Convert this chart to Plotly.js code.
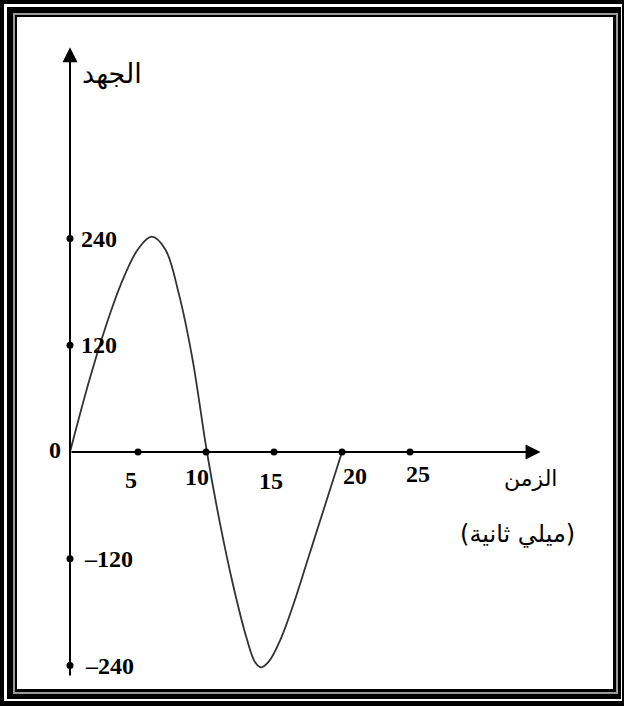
<!DOCTYPE html>
<html>
<head>
<meta charset="utf-8">
<script src="https://cdn.plot.ly/plotly-3.0.1.min.js"></script>
<style>
  html, body { margin: 0; padding: 0; background: #fff; }
  #chart { width: 624px; height: 706px; }
</style>
</head>
<body>
<div id="chart"></div>
<script>
// Alternating voltage over one period (time in ms, voltage in V)
const timeMs  = [0, 1.5, 3, 4, 5, 6, 7, 8, 9, 10.07,
                 11, 12, 13, 13.6, 14.05, 14.6, 15.5, 16.5, 17.5, 18.5, 20];
const voltage = [0, 85, 158, 198, 228, 242, 228, 178, 105, 0,
                 -78, -150, -210, -236, -242, -236, -210, -168, -120, -72, 0];

// Axis ticks
const xTicks = [5, 10, 15, 20, 25];
const xTickLabels = ['5', '10', '15', '20', '25'];
const yTicks = [240, 120, -120, -240];
const yTickLabels = ['240', '120', '–120', '–240'];

// Axis titles
const yTitle = 'الجهد';
const xTitle = 'الزمن';
const xUnit = '(ميلي ثانية)';

const W = 624, H = 706;
// figure pixel -> paper fraction helpers (margins are zero)
const px = v => v / W;
const py = v => 1 - v / H;

const numFont = { family: 'Liberation Serif, Times New Roman, serif', size: 24, color: '#000', weight: 'bold' };
const arFont = size => ({ family: 'DejaVu Sans, sans-serif', size: size, color: '#000' });

// nested frame bands drawn from the outside in
const bands = [
  [0, 0, 624, 706, '#000'],
  [4, 4, 622, 701, '#fff'],
  [7, 7, 621, 699, '#000'],
  [13, 13, 618, 694, '#9a9a9a'],
  [15, 15, 616, 692, '#000'],
  [17, 17, 613, 689, '#fff']
];
const shapes = bands.map(b => ({
  type: 'rect', xref: 'paper', yref: 'paper', layer: 'below',
  x0: px(b[0]), x1: px(b[2]), y0: py(b[3]), y1: py(b[1]),
  fillcolor: b[4], line: { width: 0 }
}));

const annotations = [];
// axis lines with arrowheads
annotations.push({ x: 0, y: 455, ax: 0, ay: -253, xref: 'x', yref: 'y', axref: 'x', ayref: 'y',
  text: '', showarrow: true, arrowhead: 2, arrowsize: 1.5, arrowwidth: 2, arrowcolor: '#000', standoff: 0 });
annotations.push({ x: 34.6, y: 0, ax: 0, ay: 0, xref: 'x', yref: 'y', axref: 'x', ayref: 'y',
  text: '', showarrow: true, arrowhead: 2, arrowsize: 1.5, arrowwidth: 2, arrowcolor: '#000', standoff: 0 });

// y tick labels to the right of the axis
const yShift = [9, 9, 12, 13];
yTicks.forEach((v, i) => annotations.push({
  x: 0, y: v, xref: 'x', yref: 'y', text: yTickLabels[i], showarrow: false,
  xanchor: 'left', yanchor: 'middle', xshift: yShift[i], font: numFont
}));
annotations.push({ x: 0, y: 0, xref: 'x', yref: 'y', text: '0', showarrow: false,
  xanchor: 'right', yanchor: 'middle', xshift: -7, yshift: 2, font: numFont });

// x tick labels under the axis
const xLabelDx = [-7, -9, -3, 13, 8];
const xLabelDy = [-28, -25, -29, -24, -22];
xTicks.forEach((v, i) => annotations.push({
  x: v, y: 0, xref: 'x', yref: 'y', text: xTickLabels[i], showarrow: false,
  xanchor: 'center', yanchor: 'middle', xshift: xLabelDx[i], yshift: xLabelDy[i], font: numFont
}));

// axis titles
annotations.push({ x: 0, y: 455, xref: 'x', yref: 'y', text: yTitle, showarrow: false,
  xanchor: 'center', yanchor: 'middle', xshift: 42, yshift: -27, font: arFont(27) });
annotations.push({ x: 34.6, y: 0, xref: 'x', yref: 'y', text: xTitle, showarrow: false,
  xanchor: 'center', yanchor: 'middle', xshift: -10, yshift: -26, font: arFont(22) });
annotations.push({ x: 34.6, y: 0, xref: 'x', yref: 'y', text: xUnit, showarrow: false,
  xanchor: 'center', yanchor: 'middle', xshift: -23, yshift: -82, font: arFont(24) });

const traces = [
  {
    x: timeMs, y: voltage, type: 'scatter', mode: 'lines',
    line: { color: '#333', width: 1.8, shape: 'spline', smoothing: 1 },
    hoverinfo: 'skip'
  },
  {
    x: xTicks, y: xTicks.map(() => 0), type: 'scatter', mode: 'markers',
    marker: { color: '#000', size: 7 }, hoverinfo: 'skip'
  },
  {
    x: yTicks.map(() => 0), y: yTicks, type: 'scatter', mode: 'markers',
    marker: { color: '#000', size: 7 }, hoverinfo: 'skip'
  }
];

// pixel scale: 13.6 px per ms, 0.8896 px per volt, origin at (70, 452)
const layout = {
  width: W, height: H,
  margin: { l: 0, r: 0, t: 0, b: 0, pad: 0 },
  paper_bgcolor: '#fff', plot_bgcolor: 'rgba(0,0,0,0)',
  showlegend: false,
  xaxis: { range: [-70 / 13.6, (W - 70) / 13.6], visible: false, fixedrange: true },
  yaxis: { range: [-(H - 452) / 0.8896, 452 / 0.8896], visible: false, fixedrange: true },
  shapes: shapes,
  annotations: annotations
};

Plotly.newPlot('chart', traces, layout, { displayModeBar: false, staticPlot: true });
</script>
</body>
</html>
